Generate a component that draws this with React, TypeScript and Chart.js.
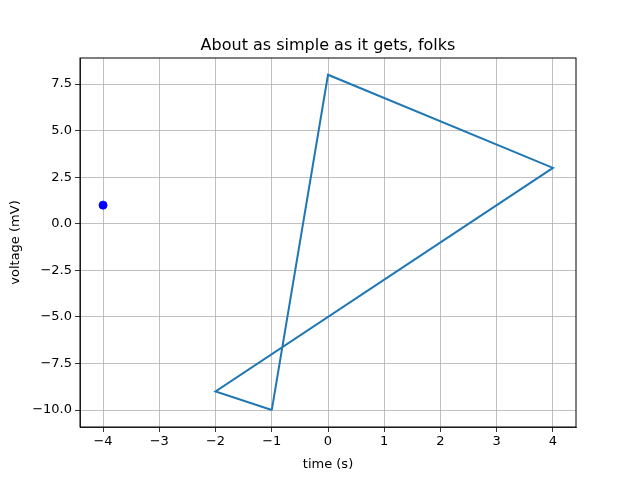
import React, { useEffect, useRef } from "react";
import { Chart, registerables } from "chart.js";
Chart.register(...registerables);

const lineX = [-1, 0, 4, -2, -1];
const lineY = [-10, 8, 3, -9, -10];
const dotX = [-4];
const dotY = [1];
const xTicks = [-4, -3, -2, -1, 0, 1, 2, 3, 4];
const yTicks = [-10, -7.5, -5, -2.5, 0, 2.5, 5, 7.5];

const FONT = "'DejaVu Sans', sans-serif";

export default function App() {
  const ref = useRef<HTMLCanvasElement>(null);
  useEffect(() => {
    document.body.style.margin = "0";
    const textPlugin = {
      id: "texts",
      afterDraw(chart: any) {
        const c = chart.ctx;
        const a = chart.chartArea;
        c.save();
        c.fillStyle = "#000";
        c.textAlign = "center";
        c.textBaseline = "alphabetic";
        c.font = `16px ${FONT}`;
        c.fillText("About as simple as it gets, folks", (a.left + a.right) / 2, 50);
        c.font = `13px ${FONT}`;
        c.fillText("time (s)", (a.left + a.right) / 2, 468);
        c.translate(19, (a.top + a.bottom) / 2);
        c.rotate(-Math.PI / 2);
        c.fillText("voltage (mV)", 0, 0);
        c.restore();
      },
    };
    const chart = new Chart(ref.current!, {
      type: "scatter",
      data: {
        datasets: [
          {
            data: lineX.map((x, i) => ({ x, y: lineY[i] })),
            showLine: true,
            borderColor: "#1f77b4",
            borderWidth: 2,
            pointRadius: 0,
            fill: false,
          },
          {
            data: dotX.map((x, i) => ({ x, y: dotY[i] })),
            pointRadius: 4,
            backgroundColor: "#0000ff",
            borderColor: "#0000ff",
          },
        ],
      },
      options: {
        animation: false,
        responsive: false,
        layout: { padding: { top: 58, right: 64, left: 0, bottom: 0 } },
        plugins: { legend: { display: false }, tooltip: { enabled: false } },
        scales: {
          x: {
            type: "linear",
            min: -4.41,
            max: 4.41,
            afterFit: (s: any) => { s.height = 53; },
            afterBuildTicks: (s: any) => { s.ticks = xTicks.map((v) => ({ value: v })); },
            ticks: { color: "#000", font: { family: FONT, size: 13 }, callback: (v: any) => String(v).replace("-", "−"), maxRotation: 0, padding: 2 },
            grid: { color: "#b0b0b0", tickColor: "#000", tickLength: 5, lineWidth: 0.8 },
            border: { color: "#000", width: 0.8 },
          },
          y: {
            type: "linear",
            min: -10.91,
            max: 8.9,
            afterFit: (s: any) => { s.width = 80; },
            afterBuildTicks: (s: any) => { s.ticks = yTicks.map((v) => ({ value: v })); },
            ticks: { color: "#000", font: { family: FONT, size: 13 }, callback: (v: any) => Number(v).toFixed(1).replace("-", "−"), padding: 3 },
            grid: { color: "#b0b0b0", tickColor: "#000", tickLength: 5, lineWidth: 0.8 },
            border: { color: "#000", width: 0.8 },
          },
        } as any,
      },
      plugins: [
        textPlugin,
        {
          id: "frame",
          afterDraw(chart: any) {
            const c = chart.ctx, a = chart.chartArea;
            c.save();
            c.strokeStyle = "#000";
            c.lineWidth = 1;
            c.strokeRect(a.left, a.top, a.right - a.left, a.bottom - a.top);
            c.restore();
          },
        },
      ],
    });
    return () => chart.destroy();
  }, []);
  return (
    <div style={{ width: 640, height: 480, background: "#fff" }}>
      <canvas ref={ref} width={640} height={480} style={{ width: 640, height: 480 }} />
    </div>
  );
}
